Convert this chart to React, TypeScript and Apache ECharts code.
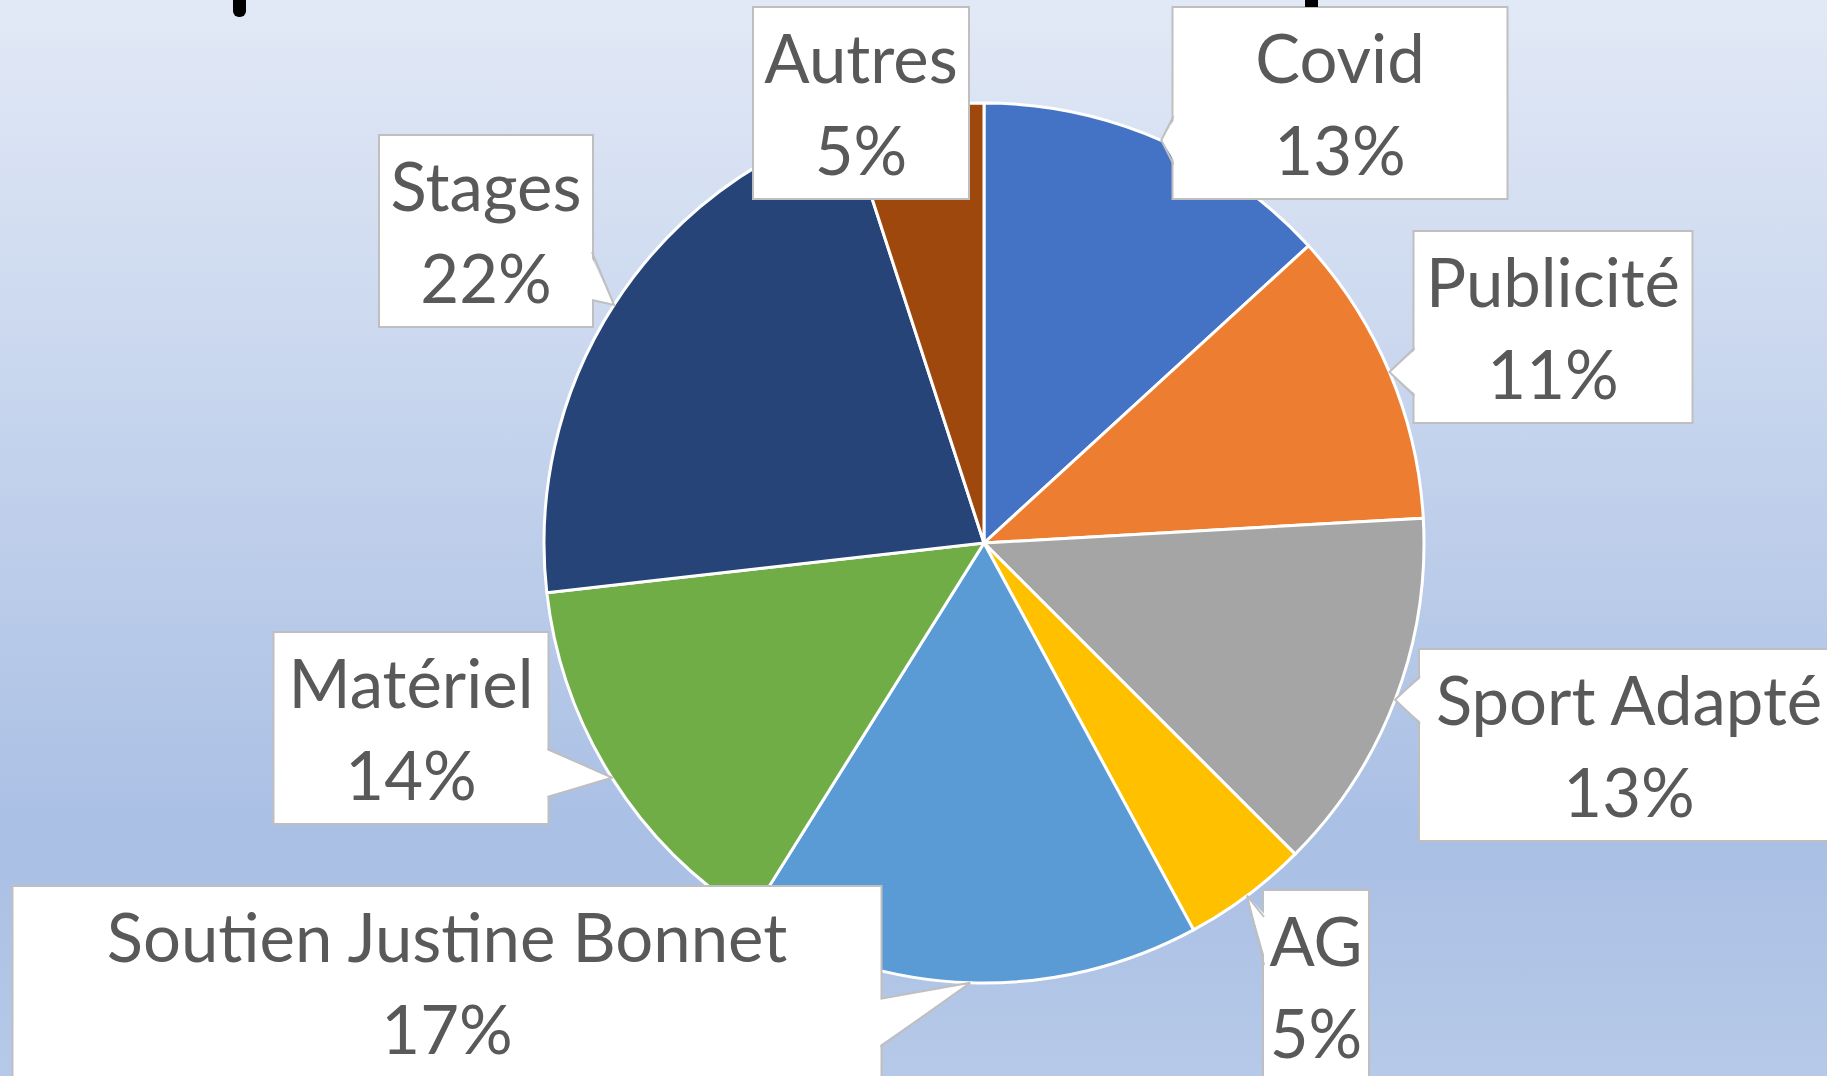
import React, { useEffect, useRef } from 'react';
import * as echarts from 'echarts';

// ---- data ----
const categories = ['Covid', 'Publicité', 'Sport Adapté', 'AG', 'Soutien Justine Bonnet', 'Matériel', 'Stages', 'Autres'];
const shares = [13.2, 10.9, 13.4, 4.6, 16.8, 14.3, 21.8, 5.0];
const colors = ['#4472C4', '#ED7D31', '#A5A5A5', '#FFC000', '#5B9BD5', '#70AD47', '#264478', '#9E480E'];

// ---- layout of the callout boxes (centre, size) ----
const labelBoxes = [
  { cx: 1340, cy: 103, w: 333, h: 190, shift: 0 },
  { cx: 1553, cy: 327, w: 277, h: 190, shift: 0 },
  { cx: 1629, cy: 745, w: 418, h: 190, shift: 0 },
  { cx: 1316, cy: 986, w: 104, h: 190, shift: 0 },
  { cx: 447, cy: 982, w: 867, h: 190, shift: 40 },
  { cx: 411, cy: 728, w: 273, h: 190, shift: 0 },
  { cx: 486, cy: 231, w: 212, h: 190, shift: 0 },
  { cx: 861, cy: 103, w: 214, h: 190, shift: 0 },
];

const FONT = 'Lato';
const BOX_BORDER = '#BFBFBF';

const titleMarks = [
  { type: 'rect', z: 50, silent: true, shape: { x: 233, y: -12, width: 13, height: 29, r: 6 }, style: { fill: '#000' } },
  { type: 'rect', z: 50, silent: true, shape: { x: 1305, y: -2, width: 13, height: 9 }, style: { fill: '#000' } },
];

function clamp(v: number, a: number, b: number) {
  return Math.max(a, Math.min(b, v));
}

function buildWedges(chart: any) {
  const out: any[] = [];
  let data: any;
  try {
    data = chart.getModel().getSeriesByIndex(0).getData();
  } catch (e) {
    return out;
  }
  categories.forEach((_, i) => {
    const lay = data.getItemLayout(i);
    if (!lay) return;
    const mid = (lay.startAngle + lay.endAngle) / 2;
    const tx = lay.cx + lay.r * Math.cos(mid);
    const ty = lay.cy + lay.r * Math.sin(mid);
    const b = labelBoxes[i];
    const l = b.cx - b.w / 2, r = b.cx + b.w / 2, t = b.cy - b.h / 2, bt = b.cy + b.h / 2;
    if (tx >= l && tx <= r && ty >= t && ty <= bt) return;
    const hw = 24, m = 50, inset = 3;
    let A: number[], B: number[], Ai: number[], Bi: number[];
    if (tx < l) {
      const yc = clamp(ty + b.shift, t + m, bt - m);
      A = [l, yc - hw]; B = [l, yc + hw]; Ai = [l + inset, yc - hw]; Bi = [l + inset, yc + hw];
    } else if (tx > r) {
      const yc = clamp(ty + b.shift, t + m, bt - m);
      A = [r, yc - hw]; B = [r, yc + hw]; Ai = [r - inset, yc - hw]; Bi = [r - inset, yc + hw];
    } else if (ty < t) {
      const xc = clamp(tx + b.shift, l + m, r - m);
      A = [xc - hw, t]; B = [xc + hw, t]; Ai = [xc - hw, t + inset]; Bi = [xc + hw, t + inset];
    } else {
      const xc = clamp(tx + b.shift, l + m, r - m);
      A = [xc - hw, bt]; B = [xc + hw, bt]; Ai = [xc - hw, bt - inset]; Bi = [xc + hw, bt - inset];
    }
    out.push({
      type: 'polygon', z: 100, silent: true,
      shape: { points: [Ai, [tx, ty], Bi] },
      style: { fill: '#ffffff', stroke: 'none' },
    });
    out.push({
      type: 'polyline', z: 101, silent: true,
      shape: { points: [A, [tx, ty], B] },
      style: { stroke: BOX_BORDER, lineWidth: 2, fill: 'none' },
    });
  });
  return out;
}

export default function App() {
  const ref = useRef<HTMLDivElement>(null);
  useEffect(() => {
    if (!ref.current) return;
    const chart = echarts.init(ref.current, undefined, { renderer: 'svg' });
    const seriesData = categories.map((name, i) => ({
      name,
      value: shares[i],
      itemStyle: { color: colors[i] },
      label: { width: labelBoxes[i].w, height: labelBoxes[i].h },
    }));
    const option: any = {
      animation: false,
      backgroundColor: new echarts.graphic.LinearGradient(0, 0, 0, 1, [
        { offset: 0, color: '#E2E9F6' },
        { offset: 0.78, color: '#A9BFE4' },
        { offset: 1, color: '#B6C9E8' },
      ]),
      graphic: { elements: titleMarks },
      series: [
        {
          type: 'pie',
          center: [984, 543],
          radius: 440,
          startAngle: 90,
          clockwise: true,
          avoidLabelOverlap: false,
          itemStyle: { borderColor: '#ffffff', borderWidth: 3 },
          label: {
            show: true,
            position: 'outside',
            formatter: (p: any) => `${p.name}\n${Math.round(p.percent)}%`,
            fontFamily: FONT,
            fontSize: 67,
            lineHeight: 92,
            color: '#595959',
            backgroundColor: '#ffffff',
            borderColor: BOX_BORDER,
            borderWidth: 2,
            padding: 0,
            align: 'center',
            verticalAlign: 'middle',
            overflow: 'none',
          },
          labelLine: { show: false },
          labelLayout: (params: any) => {
            const b = labelBoxes[params.dataIndex];
            return { x: b.cx, y: b.cy, align: 'center', verticalAlign: 'middle' };
          },
          emphasis: { disabled: true },
          data: seriesData,
        },
      ],
    };
    chart.setOption(option);
    chart.setOption({ graphic: { elements: [...titleMarks, ...buildWedges(chart)] } });
    return () => chart.dispose();
  }, []);
  return (
    <div
      ref={ref}
      style={{ position: 'fixed', left: 0, top: 0, width: 1827, height: 1076 }}
    />
  );
}
